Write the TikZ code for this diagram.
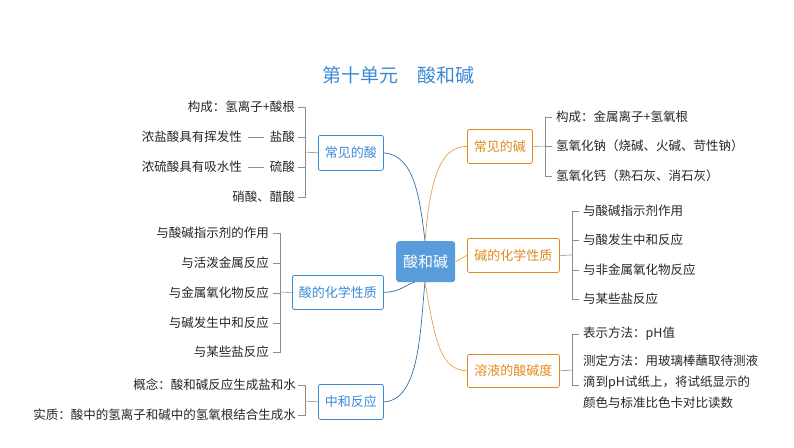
\documentclass[tikz,border=0pt]{standalone}
\usepackage{fontspec}
\setmainfont{Noto Sans CJK SC}
\definecolor{mblue}{HTML}{3A8AD6}
\definecolor{morange}{HTML}{E08A1E}
\begin{document}
\begin{tikzpicture}[x=1pt,y=-1pt,
 bl/.style={draw=mblue,line width=0.8pt,rounded corners=2pt,text=mblue,font=\fontsize{13}{15}\selectfont,anchor=north west,inner sep=0pt},
 og/.style={draw=morange,line width=0.8pt,rounded corners=2pt,text=morange,font=\fontsize{13}{15}\selectfont,anchor=north west,inner sep=0pt},
 lt/.style={font=\fontsize{12.5}{15}\selectfont,text=black!85,anchor=east,inner sep=1pt},
 rt/.style={font=\fontsize{12.5}{15}\selectfont,text=black!85,anchor=west,inner sep=1pt},
 br/.style={draw=black!45,line width=0.6pt},
 bc/.style={draw=mblue!80!black,line width=0.7pt},
 oc/.style={draw=morange!80,line width=0.7pt}]
\useasboundingbox (0,0) rectangle (794,447);
\node[font=\fontsize{19}{21}\selectfont,text=mblue] (title) at (398,75) {第十单元\quad 酸和碱};
\node[fill=mblue!85,draw=none,rounded corners=3pt,text=white,font=\fontsize{15}{17}\selectfont,minimum width=59pt,minimum height=41pt,anchor=north west,inner sep=0pt] (c) at (396,241) {酸和碱};
\node[bl,minimum width=65pt,minimum height=35pt] (a1) at (318,135) {常见的酸};
\node[bl,minimum width=91pt,minimum height=34pt] (a2) at (292,275) {酸的化学性质};
\node[bl,minimum width=65pt,minimum height=35pt] (a3) at (318,384) {中和反应};
\node[og,minimum width=65pt,minimum height=34pt] (b1) at (467,129) {常见的碱};
\node[og,minimum width=92pt,minimum height=34pt] (b2) at (467,238) {碱的化学性质};
\node[og,minimum width=92pt,minimum height=33pt] (b3) at (467,354) {溶液的酸碱度};
% curves
\draw[bc] (a1.east) .. controls (415,155) and (420,200) .. (425,241);
\draw[bc] (a2.east) .. controls (400,292) and (405,285) .. (415,282);
\draw[bc] (a3.east) .. controls (420,400) and (420,330) .. (425,282);
\draw[oc] (425,241) .. controls (430,180) and (440,146) .. (b1.west);
\draw[oc] (c.east) -- (b2.west);
\draw[oc] (425,282) .. controls (435,340) and (440,370) .. (b3.west);
% left brackets
\coordinate (k1) at (305,152);
\draw[br] (a1.west) -- (k1);
\draw[br] (298,107) -- (305,107) -- (305,197) -- (298,197);
\draw[br] (298,137) -- (305,137); \draw[br] (298,167) -- (305,167);
\node[lt] (t11) at (296,107) {构成：氢离子+酸根};
\node[lt] (t12) at (296,137) {盐酸};
\node[lt] (t13) at (296,167) {硫酸};
\node[lt] (t14) at (296,197) {硝酸、醋酸};
\node[lt] (t12a) at (243,137) {浓盐酸具有挥发性};
\node[lt] (t13a) at (243,167) {浓硫酸具有吸水性};
\draw[br] ([xshift=5pt]t12a.east) -- ([xshift=-5pt]t12.west);
\draw[br] ([xshift=5pt]t13a.east) -- ([xshift=-5pt]t13.west);
\coordinate (k2) at (280,292);
\draw[br] (a2.west) -- (k2);
\draw[br] (273,233) -- (280,233) -- (280,352) -- (273,352);
\draw[br] (273,263) -- (280,263); \draw[br] (273,293) -- (280,293); \draw[br] (273,323) -- (280,323);
\node[lt] (t21) at (270,233) {与酸碱指示剂的作用};
\node[lt] (t22) at (270,263) {与活泼金属反应};
\node[lt] (t23) at (270,293) {与金属氧化物反应};
\node[lt] (t24) at (270,323) {与碱发生中和反应};
\node[lt] (t25) at (270,352) {与某些盐反应};
\coordinate (k3) at (305,401);
\draw[br] (a3.west) -- (k3);
\draw[br] (298,385) -- (305,385) -- (305,415) -- (298,415);
\node[lt] (t31) at (297,385) {概念：酸和碱反应生成盐和水};
\node[lt] (t32) at (297,415) {实质：酸中的氢离子和碱中的氢氧根结合生成水};
% right brackets
\draw[br] (b1.east) -- (545,146);
\draw[br] (552,117) -- (545,117) -- (545,176) -- (552,176); \draw[br] (545,146) -- (552,146);
\node[rt] (r11) at (555,117) {构成：金属离子+氢氧根};
\node[rt] (r12) at (555,146) {氢氧化钠（烧碱、火碱、苛性钠）};
\node[rt] (r13) at (555,176) {氢氧化钙（熟石灰、消石灰）};
\draw[br] (b2.east) -- (572,255);
\draw[br] (579,211) -- (572,211) -- (572,299) -- (579,299); \draw[br] (572,240) -- (579,240); \draw[br] (572,270) -- (579,270);
\node[rt] (r21) at (582,211) {与酸碱指示剂作用};
\node[rt] (r22) at (582,240) {与酸发生中和反应};
\node[rt] (r23) at (582,270) {与非金属氧化物反应};
\node[rt] (r24) at (582,299) {与某些盐反应};
\draw[br] (b3.east) -- (572,370);
\draw[br] (579,334) -- (572,334) -- (572,385) -- (579,385);
\node[rt] (r31) at (582,334) {表示方法：pH值};
\node[rt,align=left,anchor=north west,font=\fontsize{12.5}{21}\selectfont] (r32) at (582,354) {测定方法：用玻璃棒蘸取待测液\\滴到pH试纸上，将试纸显示的\\颜色与标准比色卡对比读数};
\end{tikzpicture}
\end{document}
